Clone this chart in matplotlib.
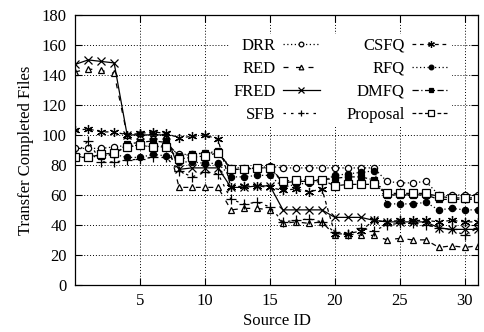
import numpy as np
from matplotlib import pyplot as plt

plt.rcParams['font.family'] = ['Liberation Serif', 'DejaVu Serif']

source_id = list(range(32))

drr = [91, 91, 91, 92, 93, 93, 92, 93, 87, 87, 88, 88, 78, 78, 78, 79,
       78, 78, 78, 78, 78, 78, 78, 78, 69, 68, 68, 69, 60, 60, 60, 60]
red = [142, 144, 143, 141, 100, 101, 101, 100, 65, 65, 65, 65, 50, 51, 51, 50,
       41, 42, 41, 42, 33, 33, 33, 33, 30, 31, 30, 30, 25, 26, 25, 26]
fred = [147, 150, 149, 148, 100, 100, 100, 100, 77, 78, 78, 78, 65, 65, 66, 66,
        50, 50, 50, 50, 45, 45, 45, 43, 42, 42, 42, 42, 38, 37, 37, 37]
sfb = [87, 96, 82, 82, 83, 84, 85, 85, 76, 72, 75, 74, 57, 54, 55, 52,
       42, 43, 44, 42, 35, 34, 38, 36, 40, 41, 41, 40, 38, 37, 33, 38]
csfq = [103, 104, 102, 102, 100, 101, 102, 101, 98, 99, 100, 97, 65, 66, 66, 65,
        63, 64, 62, 64, 34, 34, 36, 43, 42, 43, 43, 43, 42, 43, 42, 42]
rfq = [85, 85, 86, 87, 85, 85, 87, 86, 82, 82, 81, 81, 72, 72, 73, 73,
       65, 67, 68, 69, 73, 74, 75, 76, 54, 54, 54, 55, 50, 51, 50, 50]
dmfq = [85, 86, 86, 87, 94, 95, 96, 95, 86, 87, 88, 89, 77, 77, 78, 78,
        68, 69, 69, 70, 71, 72, 72, 70, 60, 60, 60, 60, 57, 57, 57, 57]
proposal = [85, 85, 87, 88, 92, 93, 92, 92, 84, 85, 86, 88, 77, 77, 78, 78,
            69, 70, 70, 70, 66, 67, 67, 67, 61, 61, 61, 61, 59, 58, 58, 58]

names = ['DRR', 'RED', 'FRED', 'SFB', 'CSFQ', 'RFQ', 'DMFQ', 'Proposal']
series = [drr, red, fred, sfb, csfq, rfq, dmfq, proposal]

asterisk = (6, 2, 0)
styles = [
    dict(marker='o', mfc='white', ls=(0, (1, 2)), ms=4.5),
    dict(marker='^', mfc='white', ls=(0, (4, 6)), ms=4.5),
    dict(marker='x', mfc='black', ls='-', ms=5.5),
    dict(marker='+', mfc='black', ls=(0, (2, 4)), ms=6.5),
    dict(marker=asterisk, mfc='black', ls=(0, (3, 3)), ms=6.5),
    dict(marker='o', mfc='black', ls=(0, (1, 2)), ms=4.5),
    dict(marker='s', mfc='black', ls=(0, (5, 2, 1, 2)), ms=4.5),
    dict(marker='s', mfc='white', ls=(0, (3, 2)), ms=5.5),
]

fig = plt.figure(figsize=(4.85, 3.32), dpi=100)
ax = fig.add_axes([0.155, 0.142, 0.83, 0.813])

for name, vals, st in zip(names, series, styles):
    ax.plot(source_id, vals, color='black', lw=0.9, mec='black', mew=0.9,
            label=name, **st)

ax.set_xlim(0, 31)
ax.set_ylim(0, 180)
ax.set_xticks([5, 10, 15, 20, 25, 30])
ax.set_yticks(np.arange(0, 181, 20))
ax.grid(True, color='black', ls=(0, (1, 2)), lw=0.7)
ax.set_axisbelow(True)
ax.tick_params(direction='in', top=True, right=True, length=5, labelsize=12, pad=6)
for s in ax.spines.values():
    s.set_linewidth(0.9)

ax.set_xlabel('Source ID', fontsize=12, labelpad=3)
ax.set_ylabel('Transfer Completed Files', fontsize=12, labelpad=6)

leg = ax.legend(ncol=2, loc='upper right', bbox_to_anchor=(0.937, 0.928),
                markerfirst=False, fontsize=12, handlelength=2.2, markerscale=0.75,
                handletextpad=0.45, columnspacing=1.6, labelspacing=0.42,
                borderpad=0.2, borderaxespad=0, frameon=True, fancybox=False)
leg.get_frame().set_facecolor('white')
leg.get_frame().set_edgecolor('none')
leg.get_frame().set_alpha(1)

fig.savefig('out.png', dpi=100)
